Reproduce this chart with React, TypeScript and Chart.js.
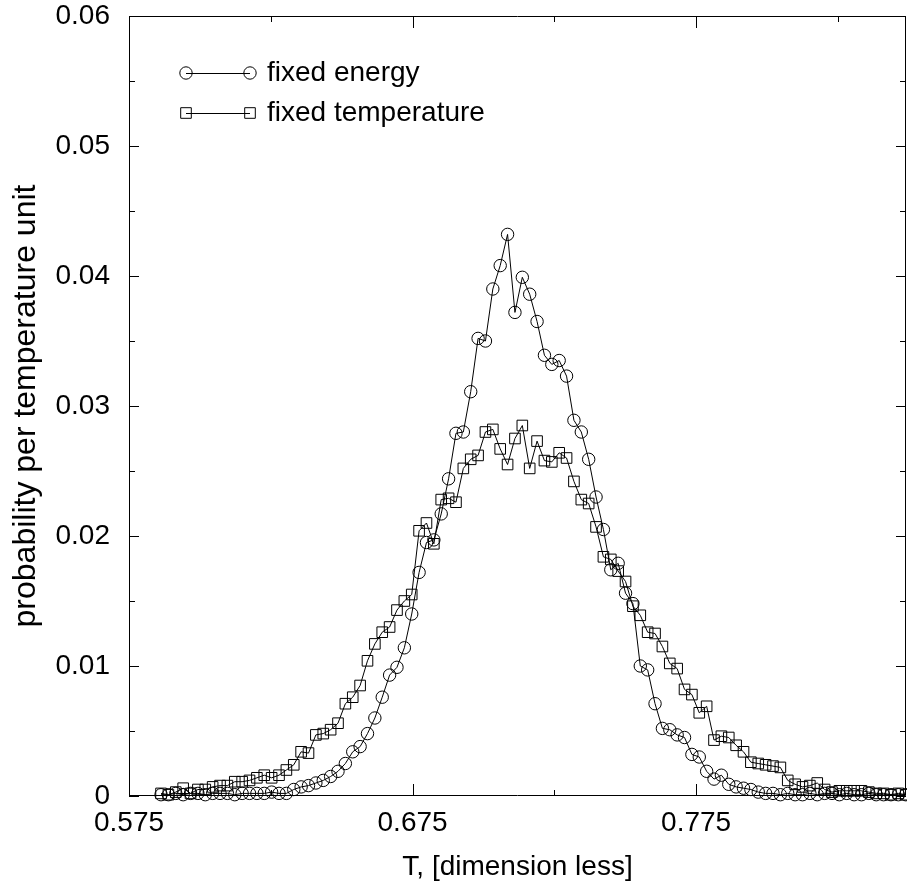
import { useEffect, useRef } from "react";
import { Chart, registerables } from "chart.js";

Chart.register(...registerables);

// Bin centres (T, dimension less)
const temps = [
  0.5863, 0.5889, 0.5915, 0.5941, 0.5967, 0.5993, 0.6019, 0.6045, 0.6071, 0.6097,
  0.6123, 0.6149, 0.6175, 0.6201, 0.6227, 0.6253, 0.6279, 0.6305, 0.6331, 0.6357,
  0.6383, 0.6409, 0.6435, 0.6461, 0.6487, 0.6513, 0.6539, 0.6565, 0.6591, 0.6617,
  0.6643, 0.6669, 0.6695, 0.6721, 0.6747, 0.6773, 0.6799, 0.6825, 0.6851, 0.6877,
  0.6903, 0.6929, 0.6955, 0.6981, 0.7007, 0.7033, 0.7059, 0.7085, 0.7111, 0.7137,
  0.7163, 0.7189, 0.7215, 0.7241, 0.7267, 0.7293, 0.7319, 0.7345, 0.7371, 0.7397,
  0.7423, 0.7449, 0.7475, 0.7501, 0.7527, 0.7553, 0.7579, 0.7605, 0.7631, 0.7657,
  0.7683, 0.7709, 0.7735, 0.7761, 0.7787, 0.7813, 0.7839, 0.7865, 0.7891, 0.7917,
  0.7943, 0.7969, 0.7995, 0.8021, 0.8047, 0.8073, 0.8099, 0.8125, 0.8151, 0.8177,
  0.8203, 0.8229, 0.8255, 0.8281, 0.8307, 0.8333, 0.8359, 0.8385, 0.8411, 0.8437,
  0.8463, 0.8489,
];

const fixedEnergy = [
  0.0001, 0.0001, 0.0002, 0.0001, 0.0002, 0.0002, 0.0001, 0.0002, 0.0002, 0.0002,
  0.0001, 0.0002, 0.0002, 0.0002, 0.0002, 0.0003, 0.0002, 0.0002, 0.0005, 0.0007,
  0.0008, 0.0010, 0.0012, 0.0015, 0.0019, 0.0025, 0.0034, 0.0038, 0.0048, 0.0060,
  0.0076, 0.0093, 0.0099, 0.0114, 0.0140, 0.0172, 0.0195, 0.0197, 0.0217, 0.0244,
  0.0279, 0.0280, 0.0311, 0.0352, 0.0350, 0.0390, 0.0408, 0.0432, 0.0372, 0.0399,
  0.0386, 0.0365, 0.0339, 0.0332, 0.0335, 0.0323, 0.0289, 0.0280, 0.0259, 0.0230,
  0.0205, 0.0174, 0.0179, 0.0156, 0.0148, 0.0100, 0.0097, 0.0071, 0.0052, 0.0051,
  0.0047, 0.0045, 0.0032, 0.0030, 0.0019, 0.0013, 0.0016, 0.0009, 0.0007, 0.0006,
  0.0005, 0.0003, 0.0002, 0.0002, 0.0001, 0.0002, 0.0001, 0.0001, 0.0002, 0.0001,
  0.0002, 0.0002, 0.0001, 0.0002, 0.0001, 0.0001, 0.0002, 0.0001, 0.0001, 0.0001,
  0.0001, 0.0001,
];

const fixedTemperature = [
  0.0002, 0.0001, 0.0003, 0.0006, 0.0002, 0.0005, 0.0005, 0.0007, 0.0008, 0.0008,
  0.0011, 0.0011, 0.0012, 0.0014, 0.0016, 0.0014, 0.0016, 0.0020, 0.0024, 0.0034,
  0.0033, 0.0047, 0.0048, 0.0051, 0.0056, 0.0071, 0.0076, 0.0085, 0.0104, 0.0117,
  0.0126, 0.0130, 0.0143, 0.0150, 0.0155, 0.0204, 0.0210, 0.0194, 0.0228, 0.0229,
  0.0226, 0.0252, 0.0259, 0.0262, 0.0280, 0.0282, 0.0267, 0.0255, 0.0275, 0.0285,
  0.0252, 0.0273, 0.0258, 0.0257, 0.0264, 0.0260, 0.0242, 0.0228, 0.0225, 0.0207,
  0.0184, 0.0182, 0.0173, 0.0165, 0.0146, 0.0139, 0.0126, 0.0125, 0.0115, 0.0102,
  0.0098, 0.0082, 0.0078, 0.0064, 0.0069, 0.0043, 0.0046, 0.0045, 0.0039, 0.0034,
  0.0026, 0.0025, 0.0024, 0.0023, 0.0022, 0.0012, 0.0009, 0.0007, 0.0008, 0.0010,
  0.0005, 0.0003, 0.0004, 0.0004, 0.0004, 0.0004, 0.0003, 0.0002, 0.0002, 0.0001,
  0.0002, 0.0001,
];

const seriesNames = ["fixed energy", "fixed temperature"];

const xMajorTicks = [0.575, 0.675, 0.775];
const xMinorTicks = [0.625, 0.725, 0.825];
const yMajorTicks = [0, 0.01, 0.02, 0.03, 0.04, 0.05, 0.06];
const yMinorTicks = [0.005, 0.015, 0.025, 0.035, 0.045, 0.055];

const xTitle = "T, [dimension less]";
const yTitle = "probability per temperature unit";

const FONT = "'Liberation Sans', Arial, Helvetica, sans-serif";

const frameTicksPlugin = {
  id: "frameTicks",
  beforeDatasetsDraw(chart: any) {
    const { ctx, chartArea, scales } = chart;
    const { left, right, top, bottom } = chartArea;
    const x = scales.x;
    const y = scales.y;
    ctx.save();
    ctx.strokeStyle = "#000";
    ctx.lineWidth = 1;
    ctx.beginPath();
    ctx.rect(left + 0.5, top + 0.5, right - left - 1, bottom - top - 1);
    ctx.stroke();
    const major = 12;
    const minor = 6;
    ctx.beginPath();
    const vTick = (v: number, len: number) => {
      const px = Math.round(x.getPixelForValue(v)) + 0.5;
      ctx.moveTo(px, bottom);
      ctx.lineTo(px, bottom - len);
      ctx.moveTo(px, top);
      ctx.lineTo(px, top + len);
    };
    const hTick = (v: number, len: number) => {
      const py = Math.round(y.getPixelForValue(v)) + 0.5;
      ctx.moveTo(left, py);
      ctx.lineTo(left + len, py);
      ctx.moveTo(right, py);
      ctx.lineTo(right - len, py);
    };
    xMajorTicks.forEach((v) => vTick(v, major));
    xMinorTicks.forEach((v) => vTick(v, minor));
    yMajorTicks.forEach((v) => hTick(v, 10));
    yMinorTicks.forEach((v) => hTick(v, minor));
    ctx.stroke();
    ctx.restore();
  },
};

const legendPlugin = {
  id: "customLegend",
  afterDraw(chart: any) {
    const { ctx, chartArea } = chart;
    const { left, top } = chartArea;
    const x0 = left + 57;
    const x1 = left + 121;
    const tx = left + 138;
    const rows = [top + 57, top + 97];
    ctx.save();
    ctx.strokeStyle = "#000";
    ctx.fillStyle = "#000";
    ctx.lineWidth = 1;
    rows.forEach((ry, i) => {
      ctx.beginPath();
      ctx.moveTo(x0, ry + 0.5);
      ctx.lineTo(x1, ry + 0.5);
      ctx.stroke();
      [x0, x1].forEach((mx) => {
        ctx.beginPath();
        if (i === 0) {
          ctx.arc(mx, ry, 6.2, 0, Math.PI * 2);
        } else {
          ctx.rect(mx - 5.3, ry - 5.3, 10.6, 10.6);
        }
        ctx.stroke();
      });
      ctx.font = `28px ${FONT}`;
      ctx.textBaseline = "middle";
      ctx.textAlign = "left";
      ctx.fillText(seriesNames[i], tx, ry);
    });
    ctx.restore();
  },
};

export default function App() {
  const canvasRef = useRef<HTMLCanvasElement | null>(null);

  useEffect(() => {
    const canvas = canvasRef.current;
    if (!canvas) return;
    const energyPts = temps.map((t, i) => ({ x: t, y: fixedEnergy[i] }));
    const tempPts = temps.map((t, i) => ({ x: t, y: fixedTemperature[i] }));
    const chart = new Chart(canvas, {
      type: "line",
      data: {
        datasets: [
          {
            label: seriesNames[0],
            data: energyPts,
            borderColor: "#000",
            borderWidth: 1,
            backgroundColor: "rgba(0,0,0,0)",
            pointStyle: "circle",
            pointRadius: 6.2,
            pointBorderWidth: 1,
            pointBorderColor: "#000",
            pointBackgroundColor: "rgba(0,0,0,0)",
            tension: 0,
            fill: false,
            clip: false,
          } as any,
          {
            label: seriesNames[1],
            data: tempPts,
            borderColor: "#000",
            borderWidth: 1,
            backgroundColor: "rgba(0,0,0,0)",
            pointStyle: "rect",
            pointRadius: 7.5,
            pointBorderWidth: 1,
            pointBorderColor: "#000",
            pointBackgroundColor: "rgba(0,0,0,0)",
            tension: 0,
            fill: false,
            clip: false,
          } as any,
        ],
      },
      options: {
        animation: false,
        responsive: false,
        devicePixelRatio: 1,
        events: [],
        layout: { autoPadding: false, padding: { top: 16, right: 1, left: 0, bottom: 0 } },
        plugins: {
          legend: { display: false },
          tooltip: { enabled: false },
        },
        scales: {
          x: {
            type: "linear",
            min: 0.575,
            max: 0.849,
            grid: { display: false, drawTicks: true, tickLength: 10 },
            border: { display: false },
            afterBuildTicks: (s: any) => {
              s.ticks = xMajorTicks.map((v) => ({ value: v }));
            },
            afterFit: (s: any) => {
              s.height = 95;
              s.paddingLeft = 0;
              s.paddingRight = 0;
              s.paddingTop = 0;
              s.paddingBottom = 0;
            },
            ticks: {
              padding: 0,
              color: "#000",
              autoSkip: false,
              maxRotation: 0,
              font: { family: FONT, size: 28 },
              callback: (v: any) => Number(v).toFixed(3),
            },
            title: {
              display: true,
              text: xTitle,
              color: "#000",
              font: { family: FONT, size: 28 },
              padding: { top: 0, bottom: 7 },
            },
          },
          y: {
            type: "linear",
            min: 0,
            max: 0.06,
            grid: { display: false, drawTicks: false },
            border: { display: false },
            afterBuildTicks: (s: any) => {
              s.ticks = yMajorTicks.map((v) => ({ value: v }));
            },
            afterFit: (s: any) => {
              s.width = 129;
              s.paddingLeft = 0;
              s.paddingRight = 0;
              s.paddingTop = 0;
              s.paddingBottom = 0;
            },
            ticks: {
              padding: 19,
              color: "#000",
              autoSkip: false,
              font: { family: FONT, size: 28, lineHeight: 1 },
              callback: (v: any) => (Number(v) === 0 ? "0" : Number(v).toFixed(2)),
            },
            title: {
              display: true,
              text: yTitle,
              color: "#000",
              font: { family: FONT, size: 32 },
              padding: { top: 7, bottom: 0 },
            },
          },
        },
      } as any,
      plugins: [frameTicksPlugin, legendPlugin],
    });
    return () => {
      chart.destroy();
    };
  }, []);

  return (
    <div style={{ position: "absolute", left: 0, top: 0, width: 907, height: 891, background: "#fff" }}>
      <canvas ref={canvasRef} width={907} height={891} style={{ display: "block", width: 907, height: 891 }} />
    </div>
  );
}
